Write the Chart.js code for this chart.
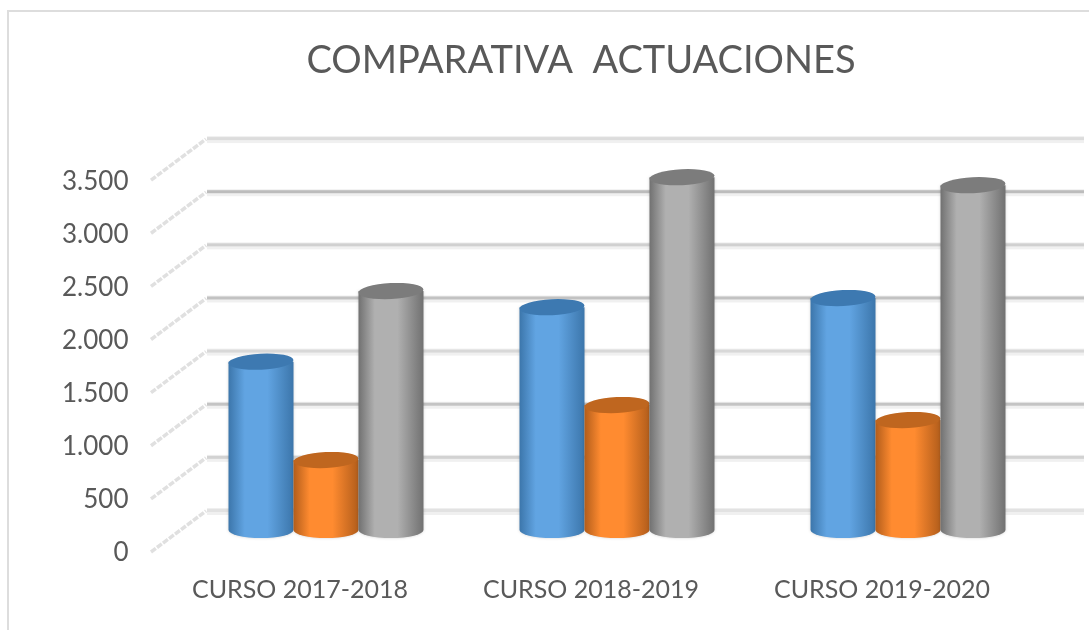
<!DOCTYPE html>
<html>
<head>
<meta charset="utf-8">
<title>Comparativa actuaciones</title>
<script src="https://cdn.jsdelivr.net/npm/chart.js@4"></script>
<style>
  html, body { margin: 0; padding: 0; background: #fff; }
  #wrap { width: 1089px; height: 630px; }
  canvas { filter: blur(0.5px); }
</style>
</head>
<body>
<div id="wrap"><canvas id="chart"></canvas></div>
<script>
const categories = ["CURSO 2017-2018", "CURSO 2018-2019", "CURSO 2019-2020"];
const serie1 = [1585, 2098, 2183];
const serie2 = [659, 1176, 1035];
const serie3 = [2249, 3321, 3246];
const tickLabels = ["0", "500", "1.000", "1.500", "2.000", "2.500", "3.000", "3.500"];

// edge, centre and cap colours of each cylinder
const blue = ["#3c76ab", "#61a4e2", "#3d79b1"];
const orange = ["#b25d1b", "#ff8b30", "#bf661f"];
const gray = ["#717171", "#b0b0b0", "#7c7c7c"];
// back wall lines alternate in strength in the picture
const wallShades = ["#e2e2e2", "#d2d2d2", "#c4c4c4", "#d8d8d8", "#c2c2c2", "#d0d0d0", "#bcbcbc", "#dcdcdc"];

function drawCylinder(ctx, bar, colors) {
  const rx = bar.width / 2, ry = 8;
  const left = bar.x - rx, right = bar.x + rx;
  const grad = ctx.createLinearGradient(left, 0, right, 0);
  grad.addColorStop(0, colors[0]);
  grad.addColorStop(0.25, colors[1]);
  grad.addColorStop(0.6, colors[1]);
  grad.addColorStop(1, colors[0]);

  ctx.save();
  ctx.shadowColor = "rgba(0,0,0,0.18)";
  ctx.shadowBlur = 3;
  ctx.fillStyle = grad;
  ctx.beginPath();
  ctx.moveTo(left, bar.y);
  ctx.lineTo(left, bar.base);
  ctx.ellipse(bar.x, bar.base, rx, ry, 0, Math.PI, 0, true);
  ctx.lineTo(right, bar.y);
  ctx.closePath();
  ctx.fill();
  ctx.restore();

  ctx.fillStyle = colors[2];
  ctx.beginPath();
  ctx.ellipse(bar.x, bar.y, rx, ry, -0.05, 0, Math.PI * 2);
  ctx.fill();
}

const scenePlugin = {
  id: "scene",
  beforeDatasetsDraw(chart) {
    const ctx = chart.ctx;
    const y = chart.scales.y, wall = chart.scales.wall;

    // frame of the pasted picture
    ctx.save();
    ctx.strokeStyle = "#dddddd";
    ctx.lineWidth = 2;
    ctx.beginPath();
    ctx.moveTo(8, 630);
    ctx.lineTo(8, 11);
    ctx.lineTo(1089, 11);
    ctx.stroke();

    // floor-to-wall diagonals and back wall lines, one per tick
    y.ticks.forEach((t, i) => {
      const front = y.getPixelForValue(t.value) - 1;
      const back = wall.getPixelForValue(t.value) + 1;
      ctx.strokeStyle = "#e0e0e0";
      ctx.lineWidth = 3.5;
      ctx.setLineDash([6, 1.5]);
      ctx.beginPath();
      ctx.moveTo(151, front);
      ctx.lineTo(206, back);
      ctx.stroke();
      ctx.setLineDash([]);

      ctx.fillStyle = "#f0f0f0";
      ctx.fillRect(207, back - 3, 877, 7);
      ctx.fillStyle = wallShades[i];
      ctx.fillRect(207, back - 2, 877, 3);
    });
    ctx.restore();

    [blue, orange, gray].forEach((colors, i) => {
      chart.getDatasetMeta(i).data.forEach(bar => drawCylinder(ctx, bar, colors));
    });
    return false;
  }
};

new Chart(document.getElementById("chart"), {
  type: "bar",
  data: {
    labels: categories,
    datasets: [
      { label: "Serie 1", data: serie1, yAxisID: "bars", backgroundColor: blue[1] },
      { label: "Serie 2", data: serie2, yAxisID: "bars", backgroundColor: orange[1] },
      { label: "Serie 3", data: serie3, yAxisID: "bars", backgroundColor: gray[1] }
    ]
  },
  plugins: [scenePlugin],
  options: {
    responsive: true,
    maintainAspectRatio: false,
    animation: false,
    layout: { padding: { left: 108.5, right: 35.5, top: 0, bottom: 0 } },
    datasets: { bar: { categoryPercentage: 0.67, barPercentage: 1 } },
    plugins: {
      legend: { display: false },
      tooltip: { enabled: false },
      title: {
        display: true,
        text: "COMPARATIVA  ACTUACIONES",
        color: "#595959",
        font: { family: "Lato", size: 38, weight: "normal" },
        padding: { top: 38, bottom: 44.4 }
      }
    },
    scales: {
      x: {
        grid: { display: false },
        border: { display: false },
        afterFit: axis => { axis.height = 77; },
        ticks: {
          color: "#595959",
          font: { family: "Lato", size: 25 },
          labelOffset: -26,
          padding: 14,
          maxRotation: 0,
          autoSkip: false
        }
      },
      y: {
        position: "left",
        min: 0,
        max: 4000,
        grid: { display: false },
        border: { display: false },
        afterFit: axis => {
          axis.width = 72;
          // labels sit left of the narrow axis box, don't clip them to it
          axis._computeLabelArea = () => null;
        },
        ticks: {
          stepSize: 500,
          autoSkip: false,
          color: "#595959",
          font: { family: "Lato", size: 26 },
          padding: 44,
          // the 4.000 tick has no label, so it is dropped
          callback: (v) => tickLabels[v / 500]
        }
      },
      // same units per pixel as y, but the bars stand further back
      bars: { axis: "y", display: false, min: -216, max: 3784 },
      wall: { axis: "y", display: false, min: -405, max: 3595 }
    }
  }
});
</script>
</body>
</html>
